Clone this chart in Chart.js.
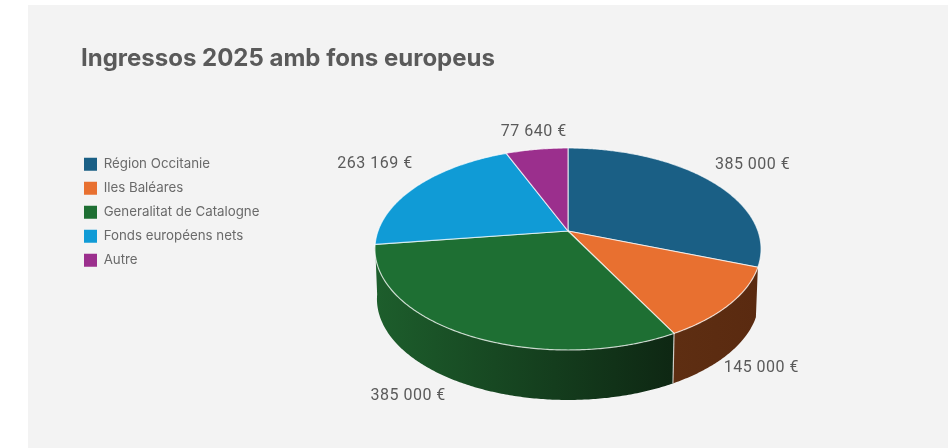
<!DOCTYPE html>
<html>
<head>
<meta charset="utf-8">
<style>
  html, body { margin: 0; padding: 0; background: #fff; }
  #panel { position: absolute; left: 28px; top: 5px; width: 920px; height: 443px; background: #f3f3f3; }
  #grafico { position: absolute; left: 0; top: 0; }
</style>
<script src="https://cdn.jsdelivr.net/npm/chart.js@4"></script>
</head>
<body>
<div id="panel"></div>
<canvas id="grafico" width="948" height="448" style="width:948px;height:448px"></canvas>
<script>
const titol = 'Ingressos 2025 amb fons europeus';
const categories = ['Région Occitanie', 'Iles Baléares', 'Generalitat de Catalogne', 'Fonds européens nets', 'Autre'];
const valors = [385000, 145000, 385000, 263169, 77640];
const etiquetes = ['385 000 €', '145 000 €', '385 000 €', '263 169 €', '77 640 €'];
const colors = ['#1a5f85', '#e87030', '#1e6f33', '#109bd6', '#9b2f8d'];
const colorsCostat = [
    null,
    ['#5e2e12', '#5a2a10'],
    ['#1d5e2c', '#0e2713'],
    null,
    null
];
// desplacament de cada etiqueta respecte a la vora del sector
const desplEtiquetes = [[43, -15], [33, 14], [-58, 12], [-42, -22], [-3, -17]];

// perspectiva del pastis
const cx = 568, cy = 231, radi = 190, radiY = 97.8, persp = 0.178, gruix = 50;

function projecta(angle, baix) {
    const x = Math.cos(angle), y = Math.sin(angle);
    const w = 1 - persp * y;
    const r = baix ? radi - 2 : radi;
    return { x: cx + r * x / w, y: cy + (baix ? gruix : 0) + radiY * y / w };
}

function traca(ctx, a1, a2, baix, primer) {
    const passos = Math.max(2, Math.ceil(Math.abs(a2 - a1) / 0.01));
    for (let i = 0; i <= passos; i++) {
        const p = projecta(a1 + (a2 - a1) * i / passos, baix);
        if (i === 0 && primer) ctx.moveTo(p.x, p.y);
        else ctx.lineTo(p.x, p.y);
    }
}

const pastis3d = {
    id: 'pastis3d',
    afterLayout(chart) {
        // la llegenda va sota el titol, alineada a l'esquerra
        chart.legend.left = 73.3;
        chart.legend.top = 147;
    },
    beforeDatasetsDraw(chart) {
        const ctx = chart.ctx;
        const arcs = chart.getDatasetMeta(0).data;

        ctx.save();
        // costats primer, nomes els sectors de davant
        arcs.forEach((arc, i) => {
            if (!colorsCostat[i]) return;
            const p1 = projecta(arc.startAngle, false);
            const p2 = projecta(arc.endAngle, false);
            const minX = Math.min(p1.x, p2.x), maxX = Math.max(p1.x, p2.x);
            const grad = ctx.createLinearGradient(minX, 0, maxX, 0);
            grad.addColorStop(0, colorsCostat[i][0]);
            grad.addColorStop(1, colorsCostat[i][1]);
            ctx.beginPath();
            traca(ctx, arc.startAngle, arc.endAngle, false, true);
            traca(ctx, arc.endAngle, arc.startAngle, true, false);
            ctx.closePath();
            ctx.fillStyle = grad;
            ctx.fill();
        });
        // aresta clara entre el verd i el taronja
        const ta = projecta(arcs[1].endAngle, false), tb = projecta(arcs[1].endAngle, true);
        ctx.beginPath();
        ctx.moveTo(ta.x, ta.y);
        ctx.lineTo(tb.x, tb.y);
        ctx.strokeStyle = 'rgba(255,255,255,0.7)';
        ctx.lineWidth = 1.2;
        ctx.stroke();

        // cara de dalt
        arcs.forEach((arc) => {
            ctx.beginPath();
            ctx.moveTo(cx, cy);
            traca(ctx, arc.startAngle, arc.endAngle, false, false);
            ctx.closePath();
            ctx.fillStyle = arc.options.backgroundColor;
            ctx.fill();
            ctx.strokeStyle = 'rgba(255,255,255,0.7)';
            ctx.lineWidth = 1.2;
            ctx.stroke();
        });

        // etiquetes
        ctx.font = '16px Roboto';
        ctx.letterSpacing = '0.5px';
        ctx.fillStyle = '#5a5a5a';
        ctx.textAlign = 'center';
        ctx.textBaseline = 'middle';
        arcs.forEach((arc, i) => {
            const mig = (arc.startAngle + arc.endAngle) / 2;
            const p = projecta(mig, Math.sin(mig) > 0);
            ctx.fillText(etiquetes[i], p.x + desplEtiquetes[i][0], p.y + desplEtiquetes[i][1]);
        });
        ctx.restore();
        return false;
    }
};

new Chart(document.getElementById('grafico'), {
    type: 'pie',
    data: {
        labels: categories,
        datasets: [{
            data: valors,
            backgroundColor: colors,
            borderWidth: 0
        }]
    },
    options: {
        responsive: false,
        animation: false,
        events: [],
        layout: { padding: { left: 81, top: 44, right: 20, bottom: 20 } },
        plugins: {
            title: {
                display: true,
                text: titol,
                align: 'start',
                color: '#5a5a5a',
                font: { family: 'Inter', size: 24, weight: 'bold' },
                padding: { top: 0, bottom: 20 }
            },
            legend: {
                position: 'left',
                align: 'start',
                labels: {
                    boxWidth: 13,
                    boxHeight: 13,
                    padding: 10.7,
                    color: '#6a6a6a',
                    font: { family: 'Inter', size: 13.3 },
                    // sense vora al voltant del quadre
                    generateLabels(chart) {
                        return categories.map((c, i) => ({
                            text: c,
                            fillStyle: colors[i],
                            strokeStyle: colors[i],
                            fontColor: '#6a6a6a',
                            lineWidth: 0,
                            index: i
                        }));
                    }
                }
            },
            tooltip: { enabled: false }
        }
    },
    plugins: [pastis3d]
});
</script>
</body>
</html>
